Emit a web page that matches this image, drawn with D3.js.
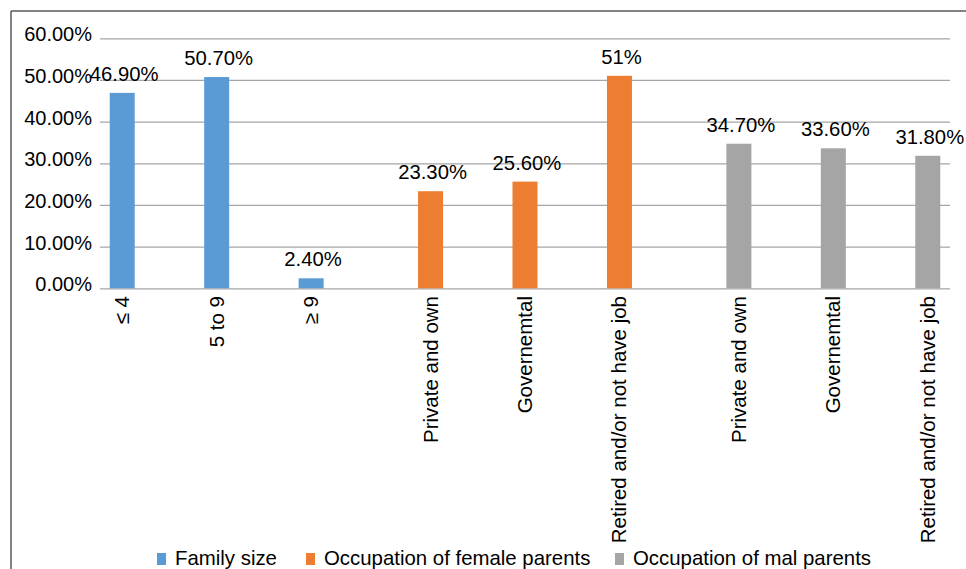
<!DOCTYPE html>
<html>
<head>
<meta charset="utf-8">
<script src="https://cdn.jsdelivr.net/npm/d3@7"></script>
<style>
    body { margin: 0; background: #fff; }
    text { font-family: "Liberation Sans", Arial, sans-serif; fill: #000; }
</style>
</head>
<body>
<svg id="chart" width="966" height="569"></svg>
<script>
// categories (one series filled per category, like the original spreadsheet)
var categories = ["≤ 4", "5 to 9", "≥ 9", "Private and own", "Governemtal", "Retired and/or not have job",
    "Private and own ", "Governemtal ", "Retired and/or not have job "];
var seriesNames = ["Family size", "Occupation of female parents", "Occupation of mal parents"];
var familySize = [46.9, 50.7, 2.4];
var femaleOccupation = [23.3, 25.6, 51];
var maleOccupation = [34.7, 33.6, 31.8];
var valueLabels = ["46.90%", "50.70%", "2.40%", "23.30%", "25.60%", "51%", "34.70%", "33.60%", "31.80%"];
var yTicks = [0, 10, 20, 30, 40, 50, 60];
var colors = ["#5b9bd5", "#ed7d31", "#a5a5a5"];

var svg = d3.select("#chart");

// frame (only top and left edges are visible)
svg.append("line").attr("x1", 11).attr("x2", 966).attr("y1", 11).attr("y2", 11)
    .attr("stroke", "#595959").attr("stroke-width", 1.5);
svg.append("line").attr("x1", 11).attr("x2", 11).attr("y1", 11).attr("y2", 569)
    .attr("stroke", "#595959").attr("stroke-width", 1.5);

var x0 = d3.scaleBand().domain(categories).range([100, 950]);
var x1 = d3.scaleBand().domain(seriesNames).range([0, x0.bandwidth()]).paddingOuter(0.389);
var y = d3.scaleLinear().domain([0, 60]).range([288.3, 38.3]);

// grid + y labels
var yAxis = d3.axisLeft(y).tickValues(yTicks).tickSize(-850)
    .tickFormat(function (d) { return d.toFixed(2) + "%"; });
var gy = svg.append("g").attr("transform", "translate(100,0)").call(yAxis);
gy.select(".domain").remove();
gy.selectAll(".tick line").attr("stroke", "#a6a6a6").attr("stroke-width", 1.3);
gy.selectAll(".tick text").attr("x", -8).attr("dy", "2.5px")
    .style("font-size", "20px").style("font-family", "Liberation Sans, Arial, sans-serif").attr("fill", "#000");

// flatten data: each category with its series and value
var bars = [];
[familySize, femaleOccupation, maleOccupation].forEach(function (vals, s) {
    vals.forEach(function (v, i) {
        var idx = s * 3 + i;
        bars.push({cat: categories[idx], series: seriesNames[s], s: s, value: v, label: valueLabels[idx]});
    });
});

svg.selectAll("rect.bar").data(bars).enter().append("rect")
    .attr("class", "bar")
    .attr("x", function (d) { return x0(d.cat) + x1(d.series); })
    .attr("width", x1.bandwidth())
    .attr("y", function (d) { return y(d.value); })
    .attr("height", function (d) { return y(0) - y(d.value); })
    .attr("fill", function (d) { return colors[d.s]; });

function barCenter(d) { return x0(d.cat) + x1(d.series) + x1.bandwidth() / 2; }

svg.selectAll("text.val").data(bars).enter().append("text")
    .attr("class", "val")
    .attr("x", function (d) { return barCenter(d) + 2; })
    .attr("y", function (d) { return y(d.value) - 12; })
    .attr("text-anchor", "middle")
    .style("font-size", "20.3px")
    .text(function (d) { return d.label; });

// rotated category labels under each bar
svg.selectAll("text.cat").data(bars).enter().append("text")
    .attr("class", "cat")
    .attr("transform", function (d) { return "translate(" + (barCenter(d) + 7) + ",296) rotate(-90)"; })
    .attr("text-anchor", "end")
    .style("font-size", "20.5px")
    .text(function (d) { return d.cat.trim(); });

// legend
var legendX = [157, 306, 615];
var lg = svg.selectAll("g.leg").data(seriesNames).enter().append("g")
    .attr("class", "leg")
    .attr("transform", function (d, i) { return "translate(" + legendX[i] + ",0)"; });
lg.append("rect").attr("x", 0).attr("y", 553).attr("width", 9).attr("height", 12)
    .attr("fill", function (d, i) { return colors[i]; });
lg.append("text").attr("x", 18).attr("y", 565).style("font-size", "20.4px").text(function (d) { return d; });
</script>
</body>
</html>
